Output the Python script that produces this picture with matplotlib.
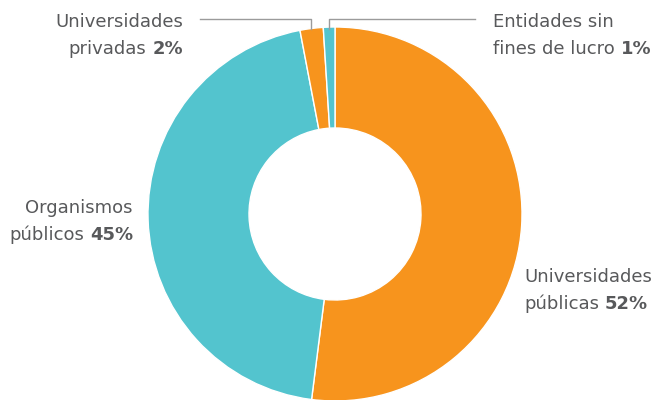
import matplotlib
matplotlib.use("Agg")
import matplotlib.pyplot as plt

labels = ["Universidades públicas", "Organismos públicos", "Universidades privadas", "Entidades sin fines de lucro"]
shares = [52, 45, 2, 1]
colors = ["#F7941D", "#53C4CE", "#F7941D", "#53C4CE"]

plt.rcParams['font.family'] = ['DejaVu Sans']
TXT = "#58595B"
FS = 13

W, H = 659, 400
fig = plt.figure(figsize=(W / 100, H / 100), dpi=100)
ax = fig.add_axes([0, 0, 1, 1])

cx, cy, r = 335, H - 214, 187
ax.pie(shares, colors=colors, startangle=90, counterclock=False,
       center=(cx, cy), radius=r, frame=True,
       wedgeprops=dict(width=101, edgecolor='white', linewidth=1))
ax.set_xlim(0, W)
ax.set_ylim(0, H)
ax.set_aspect('equal')
ax.axis('off')

renderer = fig.canvas.get_renderer()


def width_of(t):
    return t.get_window_extent(renderer=renderer).width


def label(x, y, first, normal, bold, ha):
    # y = baseline of the second line, in pixels from the top
    yy = H - y
    ax.text(x, yy + 27, first, ha=ha, va='baseline', fontsize=FS, color=TXT)
    if ha == 'right':
        tb = ax.text(x, yy, bold, ha='right', va='baseline', fontsize=FS,
                     color=TXT, fontweight='bold')
        ax.text(x - width_of(tb) - 6, yy, normal, ha='right', va='baseline',
                fontsize=FS, color=TXT)
    else:
        tn = ax.text(x, yy, normal, ha='left', va='baseline', fontsize=FS, color=TXT)
        ax.text(x + width_of(tn) + 6, yy, bold, ha='left', va='baseline',
                fontsize=FS, color=TXT, fontweight='bold')


label(183, 54, "Universidades", "privadas", f"{shares[2]}%", 'right')
label(493, 54, "Entidades sin", "fines de lucro", f"{shares[3]}%", 'left')
label(133, 240, "Organismos", "públicos", f"{shares[1]}%", 'right')
label(524, 309, "Universidades", "públicas", f"{shares[0]}%", 'left')

lc = "#9B9B9B"
ax.plot([200, 311, 311], [H - 19, H - 19, H - 29], color=lc, lw=1)
ax.plot([475, 329, 329], [H - 19, H - 19, H - 29], color=lc, lw=1)

fig.savefig("out.png", dpi=100)
